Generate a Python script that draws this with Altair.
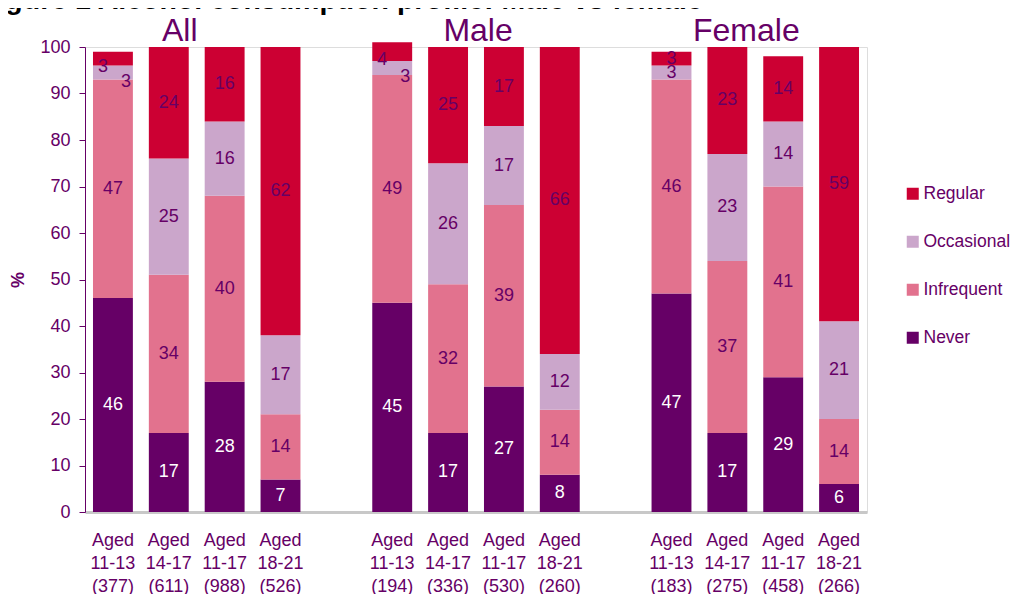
import altair as alt
import pandas as pd

PURPLE = "#660066"
FONT = "Liberation Sans"

groups = ["All", "Male", "Female"]
ages = ["11-13", "14-17", "11-17", "18-21"]
sample_sizes = {"All": [377, 611, 988, 526], "Male": [194, 336, 530, 260], "Female": [183, 275, 458, 266]}
never = {"All": [46, 17, 28, 7], "Male": [45, 17, 27, 8], "Female": [47, 17, 29, 6]}
infrequent = {"All": [47, 34, 40, 14], "Male": [49, 32, 39, 14], "Female": [46, 37, 41, 14]}
occasional = {"All": [3, 25, 16, 17], "Male": [3, 26, 17, 12], "Female": [3, 23, 14, 21]}
regular = {"All": [3, 24, 16, 62], "Male": [4, 25, 17, 66], "Female": [3, 23, 14, 59]}
categories = ["Never", "Infrequent", "Occasional", "Regular"]
legend_order = ["Regular", "Occasional", "Infrequent", "Never"]
colors = ["#CC0033", "#CBA6CB", "#E2728E", "#660066"]
title_text = "Figure 1 Alcohol consumption profile: Male vs female"

series = {"Never": never, "Infrequent": infrequent, "Occasional": occasional, "Regular": regular}

rows = []
x_domain = []
group_rows = []
for gi, g in enumerate(groups):
    if gi > 0:
        x_domain.append(f"gap{gi}")
    for i, age in enumerate(ages):
        key = f"{g}|Aged|{age}|({sample_sizes[g][i]})"
        x_domain.append(key)
        if i == 1:
            group_rows.append({"key": key, "group": g})
        for ci, c in enumerate(categories):
            rows.append({"key": key, "group": g, "age": age, "category": c,
                         "ord": ci + 1, "value": series[c][g][i]})
df = pd.DataFrame(rows)
gdf = pd.DataFrame(group_rows)

x_axis = alt.Axis(
    title=None,
    labelExpr="indexof(datum.label, 'gap') == 0 ? '' : slice(split(datum.label, '|'), 1)",
    labelAngle=0, ticks=False, domainColor="#C8C8C8", domainWidth=3,
    labelColor=PURPLE, labelFontSize=18, labelLineHeight=23, labelPadding=19,
    labelFont=FONT, labelOverlap=False,
)
x_enc = alt.X("key:N", sort=x_domain,
              scale=alt.Scale(domain=x_domain, paddingInner=0.2857, paddingOuter=0.143),
              axis=x_axis)

y_axis = alt.Axis(
    values=list(range(0, 101, 10)), grid=False, domainColor=PURPLE, domainWidth=1,
    tickColor=PURPLE, tickSize=6, labelColor=PURPLE, labelFontSize=18, labelPadding=9,
    labelFont=FONT, title="%", titleColor=PURPLE, titleFontSize=18, titleFontWeight="bold",
    titleFont=FONT, titlePadding=12,
)
y_scale = alt.Scale(domain=[0, 100], nice=False)

bars = alt.Chart(df).mark_bar().encode(
    x=x_enc,
    y=alt.Y("value:Q", stack="zero", scale=y_scale, axis=y_axis),
    color=alt.Color("category:N", scale=alt.Scale(domain=legend_order, range=colors),
                    legend=alt.Legend(title=None, orient="none", legendX=819, legendY=138,
                                      symbolType="square", symbolSize=144, symbolStrokeWidth=0,
                                      labelFontSize=17.5, labelColor=PURPLE, labelFont=FONT,
                                      rowPadding=29, labelOffset=2, padding=0)),
    order=alt.Order("ord:Q", sort="ascending"),
)

lab_base = alt.Chart(df).transform_stack(
    stack="value", groupby=["key"], sort=[alt.SortField("ord", order="ascending")],
    as_=["y0", "y1"],
).transform_calculate(
    mid="(datum.y0 + datum.y1) / 2",
    special="datum.group != 'Female' && datum.age == '11-13' && datum.ord >= 3",
)

text_color = alt.condition(alt.datum.category == "Never", alt.value("white"), alt.value(PURPLE))

def label_layer(filt, dx=0, dy=0):
    return lab_base.transform_filter(filt).mark_text(
        fontSize=18, font=FONT, baseline="middle", align="center", dx=dx, dy=dy
    ).encode(
        x=x_enc,
        y=alt.Y("mid:Q", scale=y_scale, axis=y_axis),
        text="value:Q",
        color=text_color,
    )

labels_main = label_layer("!datum.special")
labels_left = label_layer("datum.special && datum.ord == 4", dx=-10, dy=8)
labels_right = label_layer("datum.special && datum.ord == 3", dx=13, dy=9)

group_dx = {"All": 11, "Male": 30, "Female": 19}
gtitles = []
for g in groups:
    gtitles.append(
        alt.Chart(gdf).transform_filter(alt.datum.group == g).mark_text(
            fontSize=32, font=FONT, color=PURPLE, baseline="alphabetic", align="center",
            dx=group_dx[g]
        ).encode(x=x_enc, y=alt.value(-6), text="group:N")
    )

chart = alt.layer(bars, labels_main, labels_left, labels_right, *gtitles).properties(
    width=782, height=465,
    autosize=alt.AutoSizeParams(type="none"),
    padding={"left": 77, "top": 39, "right": 143, "bottom": 82},
    title=alt.TitleParams(title_text, anchor="start", frame="group", fontSize=28.5,
                          fontWeight="bold", color="black", font=FONT,
                          baseline="alphabetic", dx=-105, dy=26, offset=4),
).configure_view(stroke=None).configure(font=FONT)

chart.save("out.html", embed_options={"renderer": "svg", "actions": False})
